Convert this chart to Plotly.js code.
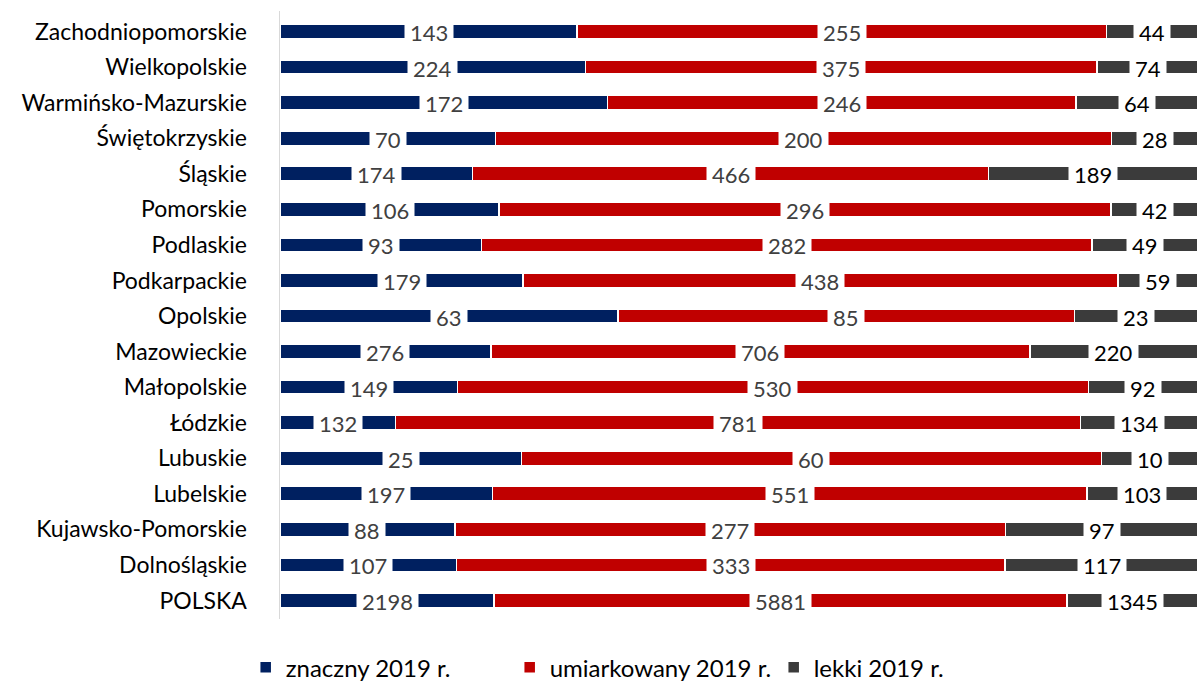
<!DOCTYPE html>
<html>
<head>
<meta charset="utf-8">
<script src="https://cdn.plot.ly/plotly-3.0.1.min.js"></script>
<style>
  html, body { margin: 0; padding: 0; background: #fff; }
  #chart { width: 1201px; height: 683px; }
</style>
</head>
<body>
<div id="chart"></div>
<script>
const regions = [
  "Zachodniopomorskie", "Wielkopolskie", "Warmińsko-Mazurskie", "Świętokrzyskie",
  "Śląskie", "Pomorskie", "Podlaskie", "Podkarpackie", "Opolskie", "Mazowieckie",
  "Małopolskie", "Łódzkie", "Lubuskie", "Lubelskie", "Kujawsko-Pomorskie",
  "Dolnośląskie", "POLSKA",
];

const znaczny = [143, 224, 172, 70, 174, 106, 93, 179, 63, 276, 149, 132, 25, 197, 88, 107, 2198];
const umiarkowany = [255, 375, 246, 200, 466, 296, 282, 438, 85, 706, 530, 781, 60, 551, 277, 333, 5881];
const lekki = [44, 74, 64, 28, 189, 42, 49, 59, 23, 220, 92, 134, 10, 103, 97, 117, 1345];

const seriesNames = ["znaczny 2019 r.", "umiarkowany 2019 r.", "lekki 2019 r."];
const FONT = "Lato, 'Open Sans', sans-serif";

const series = [
  { name: seriesNames[0], values: znaczny, color: "#002060", labelColor: "#404040" },
  { name: seriesNames[1], values: umiarkowany, color: "#C00000", labelColor: "#404040" },
  { name: seriesNames[2], values: lekki, color: "#3B3B3B", labelColor: "#000000" },
];

const traces = series.map((s) => ({
  type: "bar",
  orientation: "h",
  name: s.name,
  y: regions,
  x: s.values,
  marker: { color: s.color, line: { color: "#ffffff", width: 1.5 } },
  hoverinfo: "x+y",
}));

// etykiety na środku segmentów, z białym tłem jak w oryginale
const annotations = [];
regions.forEach((region, i) => {
  const total = series.reduce((sum, s) => sum + s.values[i], 0);
  let start = 0;
  series.forEach((s) => {
    const share = (s.values[i] / total) * 100;
    annotations.push({
      x: start + share / 2,
      y: region,
      xref: "x",
      yref: "y",
      text: String(s.values[i]),
      showarrow: false,
      bgcolor: "#ffffff",
      borderpad: 5,
      yshift: -1,
      font: { family: FONT, size: 22, color: s.labelColor },
    });
    start += share;
  });
});

const layout = {
  barmode: "stack",
  barnorm: "percent",
  bargap: 0.6,
  margin: { l: 280, r: 3, t: 11, b: 64, autoexpand: false },
  paper_bgcolor: "#ffffff",
  plot_bgcolor: "#ffffff",
  showlegend: true,
  legend: {
    orientation: "h",
    x: 0.394,
    xanchor: "center",
    y: -0.08,
    yanchor: "middle",
    font: { family: FONT, size: 24, color: "#000000" },
    itemwidth: 30,
    entrywidth: 219,
    traceorder: "normal",
  },
  xaxis: {
    range: [0, 100],
    showticklabels: false,
    showgrid: false,
    zeroline: false,
    showline: false,
    fixedrange: true,
  },
  yaxis: {
    autorange: "reversed",
    showline: true,
    linecolor: "#D9D9D9",
    linewidth: 1.5,
    showgrid: false,
    ticks: "",
    ticklabelstandoff: 27,
    tickfont: { family: FONT, size: 23, color: "#000000" },
    fixedrange: true,
  },
  annotations,
};

Plotly.newPlot("chart", traces, layout, { displayModeBar: false, staticPlot: true });
</script>
</body>
</html>
